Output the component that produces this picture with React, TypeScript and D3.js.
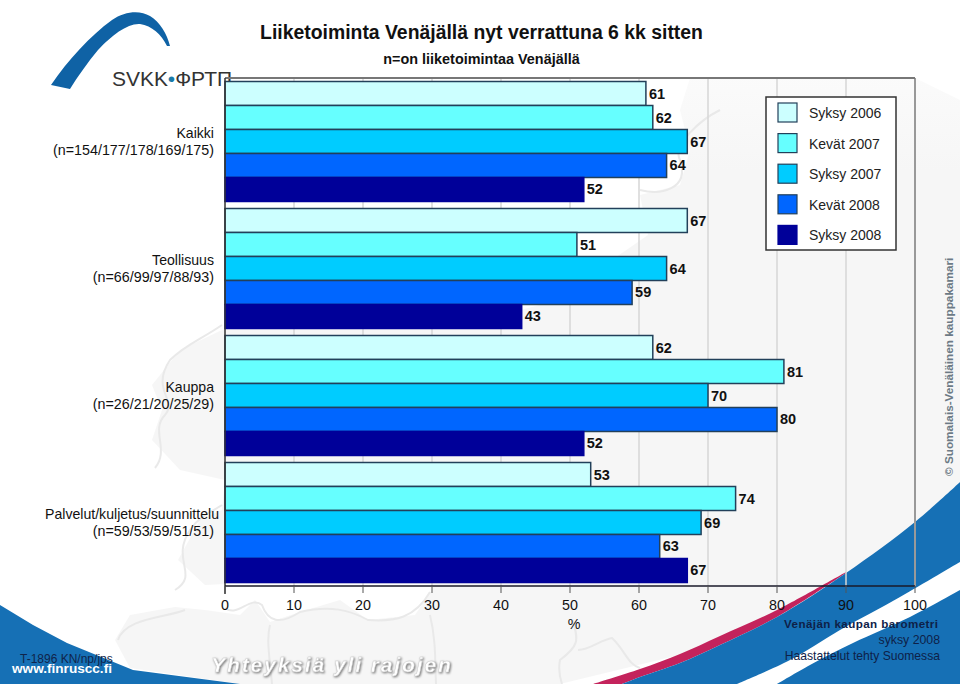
import React from "react";
import * as d3 from "d3";

const categories = ["Kaikki", "Teollisuus", "Kauppa", "Palvelut/kuljetus/suunnittelu"];
const sampleSizes = ["(n=154/177/178/169/175)", "(n=66/99/97/88/93)", "(n=26/21/20/25/29)", "(n=59/53/59/51/51)"];
const seriesNames = ["Syksy 2006", "Kevät 2007", "Syksy 2007", "Kevät 2008", "Syksy 2008"];
const seriesColors = ["#ccffff", "#66ffff", "#00ccff", "#0066ff", "#000099"];
const syksy2006 = [61, 67, 62, 53];
const kevat2007 = [62, 51, 81, 74];
const syksy2007 = [67, 64, 70, 69];
const kevat2008 = [64, 59, 80, 63];
const syksy2008 = [52, 43, 52, 67];
const seriesValues = [syksy2006, kevat2007, syksy2007, kevat2008, syksy2008];
const xTicks = [0, 10, 20, 30, 40, 50, 60, 70, 80, 90, 100];

const FONT = "'Liberation Sans', Arial, sans-serif";
const x = d3.scaleLinear().domain([0, 100]).range([225, 915]);
const y0 = d3.scaleBand<string>().domain(categories).range([78, 586]);
const y1 = d3.scaleBand<string>().domain(seriesNames).range([0, y0.bandwidth()]).paddingOuter(0.146).paddingInner(0);

const curve = d3.line().curve(d3.curveCatmullRom.alpha(0.5));
type P = [number, number];
const seaEdgeTop: P[] = [[593, 684], [640, 669], [680, 654], [720, 636], [777, 610], [846, 572]];
const blueEdge: P[] = [[622, 684], [640, 677], [680, 663], [720, 645], [777, 617], [846, 573], [915, 522], [960, 482]];
const bandTop: P[] = [[737, 684], [790, 660], [840, 630], [900, 597], [960, 562]];
const bandBottom: P[] = [[960, 590], [910, 617], [853, 643], [810, 665], [777, 684]];

const mapOutline =
  "M690 78 L915 78 L960 100 L960 520 L840 600 L700 650 L560 684 L240 684 L130 668 L115 640 L130 615 L175 607 L205 610 L240 615 L255 600 L270 622 L300 612 L340 600 L368 620 L415 615 L432 590 L432 584 L225 584 L205 585 L178 560 L200 520 L222 510 L225 480 L180 470 L152 440 L162 410 L152 385 L180 350 L222 330 L520 310 L560 300 L600 270 L612 260 L648 235 L640 195 L680 185 L690 150 L680 110 Z";
const coastLines = [
  "M155 468 C170 450 150 430 165 415 C178 400 150 390 170 360 C185 345 200 340 222 325",
  "M175 590 C200 575 170 560 190 530 C200 515 215 510 222 505",
  "M118 640 C125 618 165 618 185 610",
  "M225 608 C238 618 250 595 262 605 C268 622 280 625 300 612 C330 605 350 610 368 620 C395 622 415 618 430 592",
  "M270 625 C266 640 270 660 272 684",
  "M430 615 C436 640 435 660 436 684",
  "M573 620 C578 640 580 645 560 660 C558 670 560 678 562 684",
  "M578 650 C590 650 600 640 612 638 C625 650 628 665 640 668",
  "M640 190 C660 195 690 190 680 160 C672 145 700 120 720 110",
];

function Logo() {
  return (
    <g>
      <path d="M51 85 C68 60 90 36 112 20 C125 11 140 10 150 16 C160 22 167 34 170 46 L167 46 C161 34 152 26 140 24 C128 23 112 35 98 50 C88 62 78 76 70 89 Z" fill="#0f62a5" />
      <text x={112} y={86} fontFamily={FONT} fontSize={21} fill="#333" textLength={120}>
        SVKK<tspan fill="#1a7aa8">•</tspan>ФРТП
      </text>
    </g>
  );
}

export default function App() {
  return (
    <svg width={960} height={684} style={{ position: "absolute", left: 0, top: 0, display: "block", fontFamily: FONT }}>
      <defs>
        <linearGradient id="mapFade" gradientUnits="userSpaceOnUse" x1={0} y1={70} x2={0} y2={170}>
          <stop offset="0" stopColor="#fbfbfb" />
          <stop offset="1" stopColor="#f6f6f6" />
        </linearGradient>
      </defs>
      <rect width={960} height={684} fill="#ffffff" />
      <path d={mapOutline} fill="url(#mapFade)" />
      {coastLines.map((d, i) => (
        <path key={i} d={d} fill="none" stroke="#e9e9e9" strokeWidth={2} />
      ))}
      <path d="M0 605 L33 625 L67 643 L133 670 L240 684 L0 684 Z" fill="#1670b5" />
      <path d={`${curve(seaEdgeTop)} ${curve([...blueEdge].slice(0, 6).reverse())?.replace(/^M/, "L")} Z`} fill="#c4235c" />
      <path d={`${curve(blueEdge)} L960 684 L622 684 Z`} fill="#1670b5" />
      <path d={`${curve(bandTop)} ${curve(bandBottom)?.replace(/^M/, "L")} Z`} fill="#ffffff" />

      <Logo />

      {/* frame and gridlines */}
      {xTicks.slice(1).map((t) => (
        <line key={t} x1={x(t)} x2={x(t)} y1={78} y2={586} stroke={t === 100 ? "#999999" : "#d6d6d6"} strokeWidth={t === 100 ? 2 : 1.5} />
      ))}
      <line x1={225} x2={915} y1={78} y2={78} stroke="#777777" strokeWidth={2} />

      {/* bars */}
      {categories.map((cat, c) => (
        <g key={cat}>
          {seriesNames.map((s, i) => {
            const top = (y0(cat) as number) + (y1(s) as number);
            const h = y1.bandwidth();
            const v = seriesValues[i][c];
            return (
              <g key={s}>
                <rect x={x(0)} y={top} width={x(v) - x(0)} height={h} fill={seriesColors[i]} stroke={i === 4 ? "#000099" : "#22405a"} strokeWidth={1.5} />
                <text x={x(v) + 3} y={top + h / 2 + 5} fontSize={14.5} fontWeight="bold" fill="#111">{v}</text>
              </g>
            );
          })}
        </g>
      ))}

      {/* axes */}
      <line x1={225} x2={225} y1={78} y2={594} stroke="#333333" strokeWidth={1.5} />
      <line x1={225} x2={915} y1={586} y2={586} stroke="#1a1a2a" strokeWidth={1.5} />
      {xTicks.map((t) => (
        <g key={t}>
          <line x1={x(t)} x2={x(t)} y1={586} y2={593} stroke="#555" strokeWidth={1} />
          <text x={x(t)} y={610} fontSize={14.3} textAnchor="middle" fill="#111">{t}</text>
        </g>
      ))}
      <text x={574} y={629} fontSize={14.3} textAnchor="middle" fill="#111">%</text>

      {/* category labels */}
      {categories.map((cat, c) => {
        const mid = (y0(cat) as number) + y0.bandwidth() / 2;
        return (
          <g key={cat} fill="#111" textAnchor="end">
            <text x={cat.length > 20 ? 219 : 214} y={mid - 4} fontSize={14.1}>{cat}</text>
            <text x={214} y={mid + 13} fontSize={14.3}>{sampleSizes[c]}</text>
          </g>
        );
      })}

      {/* legend */}
      <rect x={766} y={97} width={130} height={153} fill="#ffffff" stroke="#333333" strokeWidth={1.5} />
      {seriesNames.map((s, i) => (
        <g key={s}>
          <rect x={778} y={103 + i * 30.6} width={19} height={19} fill={seriesColors[i]} stroke={i === 4 ? "#000099" : "#22405a"} strokeWidth={1.2} />
          <text x={809} y={118 + i * 30.6} fontSize={14} fill="#222">{s}</text>
        </g>
      ))}

      {/* titles */}
      <text x={481.5} y={39} fontSize={19.4} fontWeight="bold" textAnchor="middle" fill="#111">Liiketoiminta Venäjällä nyt verrattuna 6 kk sitten</text>
      <text x={481.5} y={64} fontSize={14.4} fontWeight="bold" textAnchor="middle" fill="#111">n=on liiketoimintaa Venäjällä</text>

      {/* footer */}
      <text x={20} y={663} fontSize={12} fill="#10244a">T-1896 KN/np/jps</text>
      <text x={12} y={673} fontSize={13.6} fontWeight="bold" fill="#ffffff">www.finruscc.fi</text>
      <text x={211} y={672} fontSize={21} fontWeight="bold" fontStyle="italic" fill="#ffffff" stroke="#d0d0d0" strokeWidth={0.5} letterSpacing={1.9} style={{ filter: "drop-shadow(1.5px 1.5px 1px #777)" }}>Yhteyksiä yli rajojen</text>
      <text x={784} y={628} fontSize={11.6} fontWeight="bold" fill="#0e2148" letterSpacing={0.42}>Venäjän kaupan barometri</text>
      <text x={940} y={644} fontSize={12.3} textAnchor="end" fill="#0e2148">syksy 2008</text>
      <text x={940} y={660} fontSize={12.15} textAnchor="end" fill="#0e2148">Haastattelut tehty Suomessa</text>

      {/* watermark */}
      <text transform="translate(953 476) rotate(-90)" fontSize={11.75} fontWeight="bold" fill="#6c7a85">© Suomalais-Venäläinen kauppakamari</text>
    </svg>
  );
}
